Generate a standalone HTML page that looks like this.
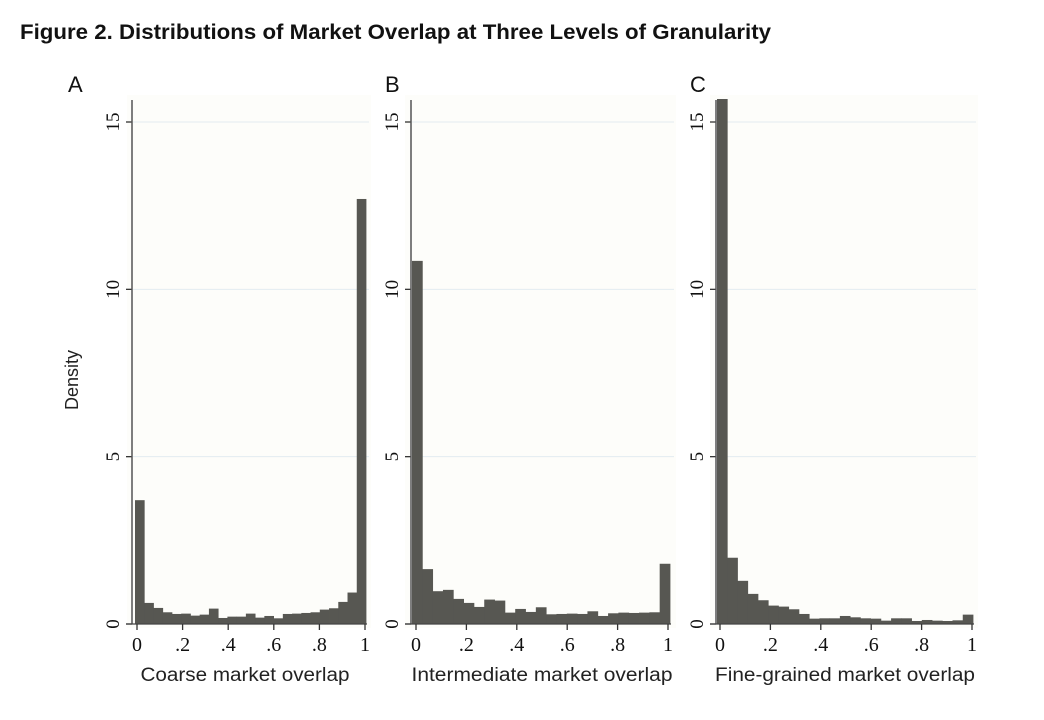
<!DOCTYPE html>
<html><head><meta charset="utf-8"><style>
body{margin:0;background:#fff;}
svg{display:block;}
</style></head><body>
<svg id="chart" width="1044" height="720" xmlns="http://www.w3.org/2000/svg">
<text x="20" y="39" font-family="Liberation Sans, sans-serif" font-weight="bold" font-size="21" textLength="751" lengthAdjust="spacingAndGlyphs" fill="#111">Figure 2.  Distributions of Market Overlap at Three Levels of Granularity</text>
<text transform="translate(78,380) rotate(-90)" text-anchor="middle" font-family="Liberation Sans, sans-serif" font-size="18" fill="#222">Density</text>
</svg>
<script>
const categories = ["A","B","C"];
const axisTitles = ["Coarse market overlap","Intermediate market overlap","Fine-grained market overlap"];
const seriesA = [3.7,0.63,0.48,0.35,0.3,0.31,0.25,0.28,0.46,0.18,0.22,0.22,0.31,0.19,0.24,0.17,0.3,0.31,0.33,0.35,0.43,0.47,0.66,0.94,12.7];
const seriesB = [10.85,1.64,0.98,1.02,0.75,0.63,0.51,0.73,0.70,0.34,0.45,0.36,0.5,0.29,0.3,0.31,0.3,0.38,0.24,0.32,0.34,0.33,0.34,0.35,1.8];
const seriesC = [15.8,1.98,1.29,0.9,0.71,0.55,0.52,0.44,0.3,0.16,0.17,0.17,0.24,0.2,0.17,0.16,0.1,0.17,0.17,0.09,0.12,0.1,0.09,0.11,0.28];
const xTicks = [0,0.2,0.4,0.6,0.8,1];
const xTickLabels = ["0",".2",".4",".6",".8","1"];
const yTicks = [0,5,10,15];
const series = [seriesA,seriesB,seriesC];

const NS="http://www.w3.org/2000/svg";
const svg=document.getElementById('chart');
const layout=[{axis:132,b0:135,b1:366,t0:137,t1:365,bg0:127,bg1:371,lx:68,tw:209,tx:245},
              {axis:411,b0:412,b1:670,t0:416,t1:668,bg0:405,bg1:676,lx:385,tw:261,tx:542},
              {axis:716,b0:717,b1:973,t0:720,t1:972,bg0:710,bg1:978,lx:690,tw:260,tx:845}];
const yBase=624, yPerUnit=(624-122)/15;
function yS(v){return yBase - v*yPerUnit;}
function mk(tag,attrs,parent){const e=document.createElementNS(NS,tag);for(const k in attrs)e.setAttribute(k,attrs[k]);(parent||svg).appendChild(e);return e;}

series.forEach((data,p)=>{
  const L=layout[p];
  const g=mk('g',{});
  
  
  const bg=mk('rect',{x:L.bg0,y:95,width:L.bg1-L.bg0,height:533,fill:'#fdfdfa'},g);
  
  
  const lt=mk('text',{x:L.lx,y:92,'font-family':'Liberation Sans, sans-serif','font-size':'22',fill:'#111'},g);
  lt.textContent=categories[p];
  
  
  yTicks.forEach(t=>{
    if(t>0){
      const gl=mk('line',{x1:L.axis+1,x2:L.bg1-2,y1:yS(t),y2:yS(t),stroke:'#e2ecf0','stroke-width':1},g);
      
      
    }
    mk('line',{x1:L.axis-6,x2:L.axis,y1:yS(t),y2:yS(t),stroke:'#333','stroke-width':1.3},g);
    const tx=mk('text',{transform:`translate(${L.axis-13},${yS(t)}) rotate(-90)`,'text-anchor':'middle','font-family':'Liberation Serif, serif','font-size':'19',fill:'#111'},g);
    tx.textContent=String(t);
    
    
  });
  const n=data.length, bw=(L.b1-L.b0)/n;
  data.forEach((v,i)=>{
    const top=Math.max(yS(v),99);
    const r=mk('rect',{x:L.b0+i*bw,y:top,width:bw+0.4,height:yBase-top,fill:'#575752'},g);
    
    
  });
  mk('line',{x1:L.axis,x2:L.axis,y1:100,y2:yBase,stroke:'#555','stroke-width':1.5},g);
  mk('line',{x1:L.axis-6,x2:L.b1+1,y1:yBase,y2:yBase,stroke:'#444','stroke-width':1.3},g);
  xTicks.forEach((t,i)=>{
    const x=L.t0+t*(L.t1-L.t0);
    mk('line',{x1:x,x2:x,y1:yBase,y2:yBase+6,stroke:'#333','stroke-width':1.3},g);
    const tx=mk('text',{x:x,y:651,'text-anchor':'middle','font-family':'Liberation Serif, serif','font-size':'20',fill:'#111'},g);
    tx.textContent=xTickLabels[i];
    
    
  });
  const at=mk('text',{x:L.tx,y:681,'text-anchor':'middle','font-family':'Liberation Sans, sans-serif','font-size':'19',textLength:L.tw,lengthAdjust:'spacingAndGlyphs',fill:'#222'},g);
  at.textContent=axisTitles[p];
  
  
});
</script>
</body></html>
